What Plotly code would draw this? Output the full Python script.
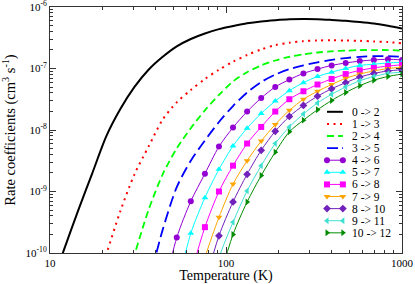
import plotly.graph_objects as go

# ---------------- data ----------------
temperature = [10.0, 12.0, 14.5, 17.4, 20.9, 25.1, 30.2, 36.3, 43.7, 52.5, 63.1, 75.9, 91.2,
               109.6, 131.8, 158.5, 190.5, 229.1, 275.4, 331.1, 398.1, 478.6, 575.4, 691.8,
               831.8, 1000.0]

# log10 of rate coefficient (cm^3 s^-1); None = below the plotted range
log_k_0_2 = [-10.62, -9.95, -9.30, -8.70, -8.10, -7.66, -7.30, -7.02, -6.81, -6.64, -6.52, -6.43,
             -6.36, -6.31, -6.265, -6.235, -6.215, -6.20, -6.195, -6.198, -6.21, -6.225, -6.245,
             -6.27, -6.305, -6.35]
log_k_1_3 = [None, None, None, -10.75, -10.02, -9.32, -8.72, -8.27, -7.83, -7.55, -7.35, -7.17,
             -7.02, -6.89, -6.78, -6.69, -6.62, -6.58, -6.555, -6.545, -6.54, -6.545, -6.55,
             -6.56, -6.57, -6.59]
log_k_2_4 = [None, None, None, None, None, -10.8, -10.03, -9.3, -8.72, -8.3, -7.97, -7.68,
             -7.43, -7.21, -7.06, -6.95, -6.87, -6.81, -6.77, -6.74, -6.72, -6.71, -6.70,
             -6.70, -6.70, -6.71]
log_k_3_5 = [None, None, None, None, None, None, None, -10.5, -9.62, -8.93, -8.50, -8.17,
             -7.87, -7.61, -7.39, -7.22, -7.10, -7.01, -6.95, -6.90, -6.86, -6.83, -6.81,
             -6.80, -6.80, -6.81]
log_k_4_6 = [None, None, None, None, None, None, None, None, -10.7, -9.75, -9.16, -8.71,
             -8.27, -7.96, -7.70, -7.48, -7.30, -7.18, -7.08, -7.01, -6.95, -6.91, -6.88,
             -6.86, -6.85, -6.86]
log_k_5_7 = [None, None, None, None, None, None, None, None, None, -10.6, -9.68, -9.10,
             -8.64, -8.26, -7.97, -7.73, -7.53, -7.36, -7.23, -7.13, -7.06, -7.00, -6.95,
             -6.93, -6.91, -6.90]
log_k_6_8 = [None, None, None, None, None, None, None, None, None, None, -10.35, -9.58,
             -9.00, -8.58, -8.22, -7.95, -7.70, -7.50, -7.37, -7.26, -7.17, -7.09, -7.03,
             -6.99, -6.96, -6.94]
log_k_7_9 = [None, None, None, None, None, None, None, None, None, None, -11.0, -10.08,
             -9.42, -8.88, -8.50, -8.18, -7.91, -7.68, -7.50, -7.37, -7.26, -7.16, -7.09,
             -7.04, -7.00, -6.98]
log_k_8_10 = [None, None, None, None, None, None, None, None, None, None, None, -10.5,
              -9.72, -9.17, -8.72, -8.33, -8.02, -7.78, -7.60, -7.45, -7.33, -7.23, -7.14,
              -7.08, -7.04, -7.02]
log_k_9_11 = [None, None, None, None, None, None, None, None, None, None, None, -11.0,
              -10.08, -9.50, -8.99, -8.58, -8.22, -7.95, -7.74, -7.56, -7.42, -7.30, -7.20,
              -7.13, -7.08, -7.06]
log_k_10_12 = [None, None, None, None, None, None, None, None, None, None, None, None,
               -10.45, -9.70, -9.17, -8.74, -8.36, -8.03, -7.84, -7.67, -7.52, -7.39, -7.28,
               -7.19, -7.13, -7.09]

series_names = ["0 -> 2", "1 -> 3", "2 -> 4", "3 -> 5", "4 -> 6", "5 -> 7", "6 -> 8",
                "7 -> 9", "8 -> 10", "9 -> 11", "10 -> 12"]
series_values = [log_k_0_2, log_k_1_3, log_k_2_4, log_k_3_5, log_k_4_6, log_k_5_7, log_k_6_8,
                 log_k_7_9, log_k_8_10, log_k_9_11, log_k_10_12]

x_tick_values = [10, 100, 1000]
x_tick_labels = ["10", "100", "1000"]
y_tick_exponents = [-10, -9, -8, -7, -6]

# ---------------- styles ----------------
styles = [
    dict(color="#000000", width=2.0, dash="solid", symbol=None),
    dict(color="#ff0000", width=2.0, dash="2px,4.5px", symbol=None),
    dict(color="#00ff00", width=1.8, dash="7px,4px", symbol=None),
    dict(color="#0000ff", width=1.8, dash="11px,5px", symbol=None),
    dict(color="rgb(148,0,211)", width=1, dash="solid", symbol="circle"),
    dict(color="#00ffff", width=1, dash="solid", symbol="triangle-up"),
    dict(color="#ff00ff", width=1, dash="solid", symbol="square"),
    dict(color="#ffa500", width=1, dash="solid", symbol="triangle-down"),
    dict(color="rgb(114,33,188)", width=1, dash="solid", symbol="diamond"),
    dict(color="rgb(64,224,208)", width=1, dash="solid", symbol="triangle-left"),
    dict(color="rgb(0,139,0)", width=1, dash="solid", symbol="triangle-right"),
]
legend_dash = ["solid", "2px,4.5px", "7px,4px", "11px,4px,2px,4px"] + ["solid"] * 7

FONT = "Liberation Serif"
AXIS_COLOR = "#333333"

fig = go.Figure()

for name, vals, st in zip(series_names, series_values, styles):
    xs = [t for t, v in zip(temperature, vals) if v is not None]
    ys = [10 ** v for v in vals if v is not None]
    mode = "lines+markers" if st["symbol"] else "lines"
    fig.add_trace(go.Scatter(
        x=xs, y=ys, name=name, mode=mode, showlegend=False,
        line=dict(color=st["color"], width=st["width"], dash=st["dash"], shape="spline",
                  smoothing=0.8),
        marker=dict(symbol=st["symbol"] or "circle", size=6, color=st["color"],
                    line=dict(width=0)),
    ))

# ---------------- custom legend (compact, like the original) ----------------
LEG_X0, LEG_X1, LEG_TX = 0.787, 0.832, 0.852
LEG_TOP, LEG_STEP = 0.574, 0.0492
annotations = []
for i, (name, st) in enumerate(zip(series_names, styles)):
    yy = LEG_TOP - i * LEG_STEP
    fig.add_trace(go.Scatter(
        x=[LEG_X0, LEG_X1], y=[yy, yy], xaxis="x2", yaxis="y2", showlegend=False,
        mode="lines+markers" if st["symbol"] else "lines", hoverinfo="skip",
        line=dict(color=st["color"], width=st["width"], dash=legend_dash[i]),
        marker=dict(symbol=st["symbol"] or "circle", size=6, color=st["color"],
                    line=dict(width=0)),
    ))
    annotations.append(dict(
        x=LEG_TX, y=yy, xref="paper", yref="paper", text=name, showarrow=False,
        xanchor="left", yanchor="middle", font=dict(family=FONT, size=11.5, color="#000")))

x_minor = [m * 10 ** d for d in (1, 2) for m in range(2, 10)]
y_minor = [m * 10.0 ** e for e in y_tick_exponents[:-1] for m in range(2, 10)]

fig.update_layout(
    width=415, height=284,
    margin=dict(l=50, r=13, t=7, b=31),
    paper_bgcolor="white", plot_bgcolor="white",
    font=dict(family=FONT, size=11, color="#000"),
    annotations=annotations,
    xaxis=dict(
        type="log", range=[1, 3.00001], automargin=False, ticklabeloverflow="allow",
        tickmode="array", tickvals=x_tick_values, ticktext=x_tick_labels,
        ticks="inside", ticklen=6, tickwidth=1, tickcolor=AXIS_COLOR,
        showline=True, linecolor=AXIS_COLOR, linewidth=1, mirror="allticks",
        showgrid=False, zeroline=False,
        tickfont=dict(family=FONT, size=11),
        minor=dict(tickmode="array", tickvals=x_minor, ticks="inside", ticklen=3,
                   tickcolor=AXIS_COLOR, showgrid=False),
        title=dict(text="Temperature (K)", font=dict(family=FONT, size=14), standoff=5),
    ),
    yaxis=dict(
        type="log", range=[-10.00001, -5.99999], automargin=False, ticklabeloverflow="allow",
        tickmode="array", tickvals=[10.0 ** e for e in y_tick_exponents],
        ticktext=["10<sup>%d</sup>" % e for e in y_tick_exponents],
        ticks="inside", ticklen=6, tickwidth=1, tickcolor=AXIS_COLOR,
        showline=True, linecolor=AXIS_COLOR, linewidth=1, mirror="allticks",
        showgrid=False, zeroline=False,
        tickfont=dict(family=FONT, size=11),
        minor=dict(tickmode="array", tickvals=y_minor, ticks="inside", ticklen=3,
                   tickcolor=AXIS_COLOR, showgrid=False),
        title=dict(text="Rate coefficients (cm<sup>3</sup> s<sup>-1</sup>)",
                   font=dict(family=FONT, size=14.5), standoff=6),
    ),
    xaxis2=dict(overlaying="x", range=[0, 1], visible=False, fixedrange=True),
    yaxis2=dict(overlaying="y", range=[0, 1], visible=False, fixedrange=True),
)

fig.write_html(
    "out.html",
    config={"displayModeBar": False},
    post_script="document.body.style.margin='0';document.body.style.padding='0';"
                "document.body.style.overflow='hidden';",
)
